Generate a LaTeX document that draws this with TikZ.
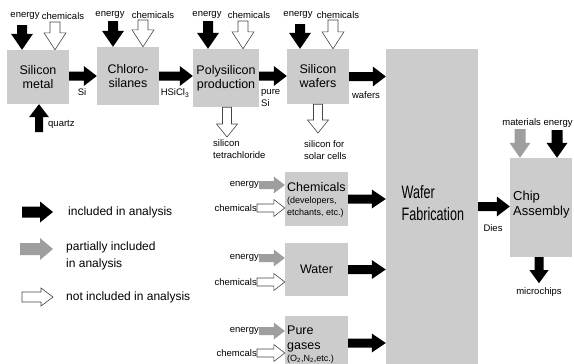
\documentclass[tikz,border=0pt]{standalone}
\usepackage{fontspec}
\setmainfont{Liberation Sans}
\newfontfamily\narrowfont[FakeStretch=0.7]{Liberation Sans}
\usetikzlibrary{calc}
\definecolor{boxgray}{RGB}{204,204,204}
\definecolor{arrgray}{RGB}{158,158,158}
\definecolor{outl}{RGB}{70,70,70}
% block arrow: style, tail, tip, shaft half width, head half width, head length
\newcommand\barr[6]{%
  \coordinate (bT) at #2; \coordinate (bP) at #3;
  \coordinate (bC) at ($(bP)!#6!(bT)$);
  \path[#1] ($(bT)!#4!90:(bP)$) -- ($(bC)!#4!-90:(bT)$) -- ($(bC)!#5!-90:(bT)$) -- (bP)
    -- ($(bC)!#5!90:(bT)$) -- ($(bC)!#4!90:(bT)$) -- ($(bT)!#4!-90:(bP)$) -- cycle;}
\begin{document}
\begin{tikzpicture}[x=1pt,y=-1pt,
  box/.style={fill=boxgray, inner sep=0pt, align=center, font=\fontsize{12.5}{14}\selectfont},
  blk/.style={fill=black},
  gry/.style={fill=arrgray},
  wht/.style={draw=outl, fill=white, line width=0.6pt, line join=miter},
  lbl/.style={inner sep=0pt, font=\fontsize{9.5}{12.5}\selectfont},
  leg/.style={inner sep=0pt, anchor=west, align=left, font=\fontsize{12}{17}\selectfont}]
\useasboundingbox (0,0) rectangle (574,364);
% boxes
\node[box, minimum width=62pt, minimum height=54pt] (sm) at (38,77) {Silicon\\metal};
\node[box, minimum width=62pt, minimum height=58pt] (ch) at (128,76) {Chloro-\\silanes};
\node[box, minimum width=66pt, minimum height=58pt] (po) at (226,78) {Polysilicon\\production};
\node[box, minimum width=62pt, minimum height=55pt] (wf) at (318,76.5) {Silicon\\wafers};
\node[box, minimum width=92pt, minimum height=315pt] (fab) at (432,206.5) {};
\node[box, minimum width=62pt, minimum height=99pt] (chip) at (541,207.5) {};
\node[box, minimum width=63pt, minimum height=54pt] (chb) at (316.5,199) {};
\node[box, minimum width=63pt, minimum height=53pt] (wa) at (316.5,269.5) {Water};
\node[box, minimum width=63pt, minimum height=48pt] (ga) at (316.5,340) {};
% box texts (left aligned)
\node[inner sep=0pt, anchor=north west, align=left, font=\narrowfont\fontsize{18}{22.7}\selectfont] (fabT) at (401.5,185) {Wafer\\Fabrication};
\node[inner sep=0pt, anchor=north west, align=left, font=\fontsize{13}{15.5}\selectfont] (chipT) at (513,190.5) {Chip\\Assembly};
\node[inner sep=0pt, anchor=north west, align=left, font=\fontsize{9}{12}\selectfont] (chbT) at (287,182.5) {{\fontsize{12.5}{12}\selectfont Chemicals}\\(developers,\\etchants, etc.)};
\node[inner sep=0pt, anchor=north west, align=left, font=\fontsize{12.5}{15}\selectfont] (gaT) at (287,325.5) {Pure\\gases\\[-2.5pt]{\fontsize{9}{12}\selectfont (O\textsubscript{2},N\textsubscript{2},etc.)}};
% top inputs
\coordinate (smE) at (22,25);  \coordinate (smC) at (55,22);
\coordinate (chE) at (113,21); \coordinate (chC) at (143,20);
\coordinate (poE) at (208,21); \coordinate (poC) at (243,21);
\coordinate (wfE) at (300,24); \coordinate (wfC) at (333,20);
\barr{blk}{(smE)}{(smE |- sm.north)}{5pt}{11pt}{16pt}
\barr{wht}{(smC)}{(smC |- sm.north)}{5pt}{11pt}{17pt}
\barr{blk}{(chE)}{(chE |- ch.north)}{5pt}{11pt}{16pt}
\barr{wht}{(chC)}{(chC |- ch.north)}{5pt}{11pt}{17pt}
\barr{blk}{(poE)}{(poE |- po.north)}{5pt}{11pt}{16pt}
\barr{wht}{(poC)}{(poC |- po.north)}{5pt}{11pt}{17pt}
\barr{blk}{(wfE)}{(wfE |- wf.north)}{5pt}{11pt}{16pt}
\barr{wht}{(wfC)}{(wfC |- wf.north)}{5pt}{11pt}{17pt}
\node[lbl] (l1) at (25,16) {energy};
\node[lbl] (l2) at (63,16) {chemicals};
\node[lbl] (l3) at (110,15) {energy};
\node[lbl] (l4) at (153,15) {chemicals};
\node[lbl] (l5) at (207,15) {energy};
\node[lbl] (l6) at (249,15) {chemicals};
\node[lbl] (l7) at (298,15) {energy};
\node[lbl] (l8) at (338,15) {chemicals};
% main flow
\coordinate (f1) at (69,76); \coordinate (f3) at (259,76);
\barr{blk}{(f1)}{(f1 -| ch.west)}{4.5pt}{10pt}{13pt}
\barr{blk}{(ch.east)}{(ch.east -| po.west)}{4.5pt}{10pt}{13pt}
\barr{blk}{(f3)}{(f3 -| wf.west)}{4.5pt}{10pt}{13pt}
\barr{blk}{(wf.east)}{(wf.east -| fab.west)}{4.5pt}{10pt}{13pt}
\node[lbl] (si) at (82,92.5) {Si};
\node[lbl] (hs) at (175,93) {HSiCl\textsubscript{3}};
\node[lbl, anchor=north west, align=left] (ps) at (261,89) {pure\\Si};
\node[lbl] (wl) at (366,95) {wafers};
% quartz and by-products
\coordinate (qz) at (39,132);
\barr{blk}{(qz)}{(qz |- sm.south)}{4pt}{10pt}{13pt}
\node[lbl, anchor=west] (qzl) at (48,124) {quartz};
\coordinate (stc) at (227,137);
\barr{wht}{(stc |- po.south)}{(stc)}{4.5pt}{10.5pt}{13pt}
\node[lbl, anchor=north west, align=left] (stcl) at (213,139) {silicon\\tetrachloride};
\coordinate (sol) at (318,133);
\barr{wht}{(sol |- wf.south)}{(sol)}{4.5pt}{10.5pt}{13pt}
\node[lbl, anchor=north west, align=left] (soll) at (304,140) {silicon for\\solar cells};
% supplies to fab
\barr{blk}{(chb.east)}{(chb.east -| fab.west)}{4.5pt}{9.5pt}{14pt}
\barr{blk}{(wa.east)}{(wa.east -| fab.west)}{4.5pt}{9.5pt}{14pt}
\coordinate (gaO) at ($(ga.east)+(0,3)$);
\barr{blk}{(gaO)}{(gaO -| fab.west)}{4.5pt}{9.5pt}{14pt}
% small inputs
\coordinate (ce) at (259,185); \coordinate (cc) at (257,208);
\coordinate (we) at (259,258); \coordinate (wc) at (257,282);
\coordinate (ge) at (259,331); \coordinate (gc) at (257,353);
\barr{gry}{(ce)}{(ce -| chb.west)}{4pt}{8.5pt}{11pt}
\barr{wht}{(cc)}{(cc -| chb.west)}{4pt}{8.5pt}{11pt}
\barr{gry}{(we)}{(we -| wa.west)}{4pt}{8.5pt}{11pt}
\barr{wht}{(wc)}{(wc -| wa.west)}{4pt}{8.5pt}{11pt}
\barr{gry}{(ge)}{(ge -| ga.west)}{4pt}{8.5pt}{11pt}
\barr{wht}{(gc)}{(gc -| ga.west)}{4pt}{8.5pt}{11pt}
\node[lbl, anchor=east] (cel) at (ce) {energy};
\node[lbl, anchor=east] (ccl) at (cc) {chemicals};
\node[lbl, anchor=east] (wel) at (we) {energy};
\node[lbl, anchor=east] (wcl) at (wc) {chemicals};
\node[lbl, anchor=east] (gel) at (ge) {energy};
\node[lbl, anchor=east] (gcl) at (gc) {chemcals};
% chip assembly
\barr{blk}{(fab.east)}{(fab.east -| chip.west)}{4.5pt}{10pt}{13pt}
\node[lbl] (dies) at (493,228) {Dies};
\coordinate (cm) at (520,129); \coordinate (ce2) at (557,130);
\barr{gry}{(cm)}{(cm |- chip.north)}{5.5pt}{10.5pt}{15pt}
\barr{blk}{(ce2)}{(ce2 |- chip.north)}{5.5pt}{10.5pt}{15pt}
\node[lbl] (mat) at (537.5,123) {materials energy};
\coordinate (mc) at ($(chip.south)+(-2,26)$);
\barr{blk}{(mc |- chip.south)}{(mc)}{4.5pt}{9.5pt}{13pt}
\node[lbl] (mcl) at (539,292) {microchips};
% legend
\coordinate (g1a) at (22,212); \coordinate (g1b) at (53,212);
\coordinate (g2a) at (20,249); \coordinate (g2b) at (53,249);
\coordinate (g3a) at (22,297); \coordinate (g3b) at (53,297);
\barr{blk}{(g1a)}{(g1b)}{5.5pt}{10.5pt}{13pt}
\barr{gry}{(g2a)}{(g2b)}{6pt}{11pt}{13pt}
\barr{wht}{(g3a)}{(g3b)}{5pt}{9pt}{12pt}
\node[leg] (t1) at (68,212) {included in analysis};
\node[leg] (t2) at (66,255.5) {partially included\\in analysis};
\node[leg] (t3) at (66,297) {not included in analysis};
\end{tikzpicture}
\end{document}
